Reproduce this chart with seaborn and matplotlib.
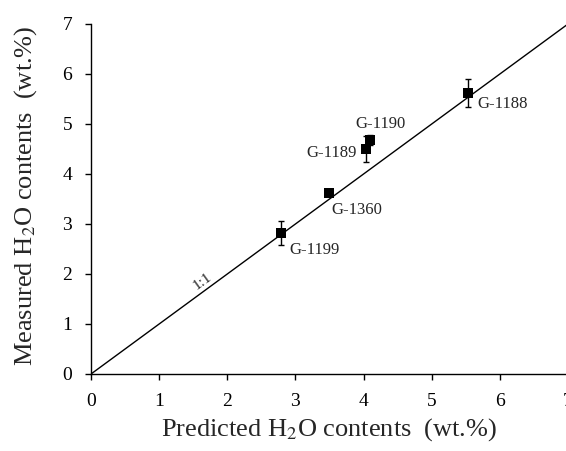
import matplotlib
matplotlib.use("Agg")
import matplotlib.pyplot as plt
import seaborn as sns
import numpy as np
import pandas as pd

# Sample data: predicted vs measured water contents (wt.%)
samples = ["G-1188", "G-1190", "G-1189", "G-1360", "G-1199"]
predicted = [5.53, 4.10, 4.03, 3.49, 2.79]
measured = [5.62, 4.68, 4.50, 3.62, 2.82]
meas_err = [0.28, 0.10, 0.26, 0.0, 0.24]

# label offsets (pixels) and alignment for each sample name
label_dx = [10, 10, -9, 3, 8]
label_dy = [-11, 16, -4, -17, -17]
label_ha = ["left", "center", "right", "left", "left"]

x_ticks = [0, 1, 2, 3, 4, 5, 6, 7]
y_ticks = [0, 1, 2, 3, 4, 5, 6, 7]

df = pd.DataFrame({"sample": samples, "predicted": predicted,
                   "measured": measured, "err": meas_err})
line_df = pd.DataFrame({"x": [0, 7], "y": [0, 7]})

sns.set_style("ticks")
plt.rcParams["font.family"] = ["Liberation Serif", "DejaVu Serif"]
plt.rcParams["mathtext.fontset"] = "stix"

fig = plt.figure(figsize=(5.66, 4.51), dpi=100)
ax = fig.add_axes([91 / 566, 77 / 451, 477 / 566, 350 / 451])

# 1:1 reference line
sns.lineplot(data=line_df, x="x", y="y", color="black", linewidth=1.0, ax=ax)

# error bars then square markers
ax.errorbar(df["predicted"], df["measured"], yerr=df["err"], fmt="none",
            ecolor="black", elinewidth=1.0, capsize=2.0, capthick=1.0, zorder=3)
sns.scatterplot(data=df, x="predicted", y="measured", marker="s", s=60,
                color="black", edgecolor="black", linewidth=0, ax=ax, zorder=4)

for name, px, py, dx, dy, ha in zip(samples, predicted, measured,
                                    label_dx, label_dy, label_ha):
    ax.annotate(name, (px, py), xytext=(dx, dy), textcoords="offset pixels",
                ha=ha, va="center", fontsize=12)

ax.text(1.64, 1.86, "1:1", rotation=36, ha="center", va="center", fontsize=11)

ax.set_xlim(0, 7)
ax.set_ylim(0, 7)
ax.set_xticks(x_ticks)
ax.set_yticks(y_ticks)
ax.tick_params(direction="out", length=4.5, width=1.0, labelsize=14, pad=9,
               colors="black")
for side in ["top", "right"]:
    ax.spines[side].set_visible(False)
for side in ["left", "bottom"]:
    ax.spines[side].set_linewidth(1.0)
    ax.spines[side].set_color("black")

ax.set_xlabel(r"Predicted H$_2$O contents  (wt.%)", fontsize=19)
ax.set_ylabel(r"Measured H$_2$O contents  (wt.%)", fontsize=19)
ax.xaxis.set_label_coords(0.5, -0.12)
ax.yaxis.set_label_coords(-0.11, 0.51)

fig.savefig("out.png", dpi=100)
